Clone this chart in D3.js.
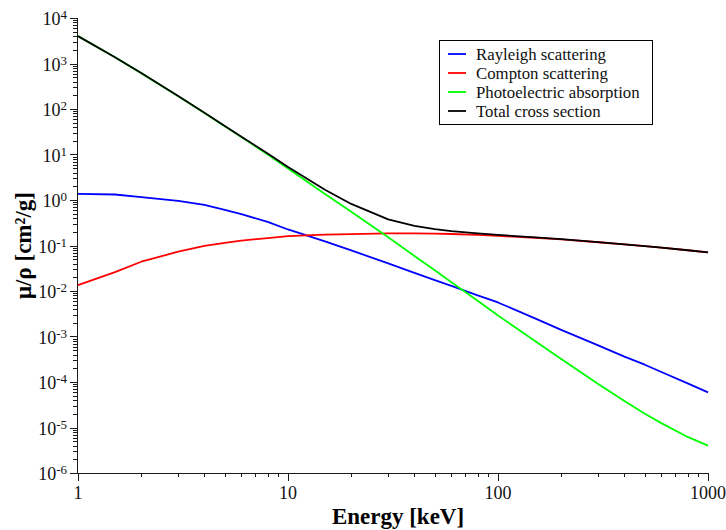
<!DOCTYPE html>
<html>
<head>
<meta charset="utf-8">
<script src="https://cdn.jsdelivr.net/npm/d3@7/dist/d3.min.js"></script>
<style>
  html, body { margin: 0; padding: 0; background: #fff; }
  svg { display: block; }
</style>
</head>
<body>
<svg id="chart" width="726" height="530"></svg>
<script>
// ---- data (energy in keV, mass attenuation in cm^2/g) ----
const energy = [1, 1.5, 2, 3, 4, 5, 6, 8, 10, 15, 20, 30, 40, 50, 60, 80, 100, 150, 200, 300, 400, 500, 600, 800, 1000];
const rayleigh = [1.36, 1.32, 1.16, 0.96, 0.78, 0.61, 0.49, 0.33, 0.225, 0.123, 0.078, 0.0405, 0.025, 0.0173, 0.0129, 0.0080, 0.0056, 0.0025, 0.0014, 6.4e-4, 3.6e-4, 2.4e-4, 1.66e-4, 9.3e-5, 5.9e-5];
const compton = [0.0135, 0.026, 0.044, 0.073, 0.098, 0.114, 0.128, 0.146, 0.161, 0.173, 0.178, 0.184, 0.185, 0.183, 0.179, 0.171, 0.162, 0.148, 0.136, 0.118, 0.106, 0.0968, 0.0895, 0.0786, 0.0707];
const photo = [4000, 1370, 615, 191, 81.5, 41.8, 24.1, 10.0, 4.9, 1.36, 0.55, 0.151, 0.059, 0.0286, 0.0156, 0.0061, 0.0029, 8.0e-4, 3.2e-4, 9.0e-5, 3.8e-5, 2.0e-5, 1.25e-5, 6.2e-6, 4.0e-6];
const total = [4002, 1372, 617, 192, 82.4, 42.5, 24.7, 10.5, 5.3, 1.68, 0.82, 0.376, 0.27, 0.229, 0.207, 0.185, 0.171, 0.151, 0.138, 0.119, 0.1064, 0.097, 0.0897, 0.0787, 0.0708];
const seriesNames = ["Rayleigh scattering", "Compton scattering", "Photoelectric absorption", "Total cross section"];
const seriesColors = ["#0000ff", "#ff0000", "#00ff00", "#000000"];
const xTickValues = [1, 10, 100, 1000];
const xTickLabels = ["1", "10", "100", "1000"];
const yExponents = [-6, -5, -4, -3, -2, -1, 0, 1, 2, 3, 4];
const xTitle = "Energy [keV]";
const yTitle = "μ/ρ [cm²/g]";

(function () {
const FONT = "'Liberation Serif', 'Times New Roman', serif";
const svg = d3.select("#chart").attr("font-family", FONT);
const mLeft = 78, mRight = 708, mTop = 18, mBottom = 473;
const x = d3.scaleLog().domain([1, 1000]).range([mLeft, mRight]);
const y = d3.scaleLog().domain([1e-6, 1e4]).range([mBottom, mTop]);
const axisColor = "#1a1a1a";

const xMinor = [];
for (let d = 0; d < 3; d++) for (let k = 2; k <= 9; k++) xMinor.push(k * Math.pow(10, d));
const yMinor = [];
for (let d = -6; d < 4; d++) for (let k = 2; k <= 9; k++) yMinor.push(k * Math.pow(10, d));

const gx = svg.append("g");
gx.append("line").attr("x1", mLeft).attr("x2", mRight).attr("y1", mBottom + 0.5).attr("y2", mBottom + 0.5)
  .attr("stroke", axisColor).attr("stroke-width", 1);
gx.selectAll("line.minor").data(xMinor).join("line").attr("class", "minor")
  .attr("x1", d => Math.round(x(d)) + 0.5).attr("x2", d => Math.round(x(d)) + 0.5)
  .attr("y1", mBottom).attr("y2", mBottom + 4).attr("stroke", axisColor);
gx.selectAll("line.major").data(xTickValues).join("line").attr("class", "major")
  .attr("x1", d => Math.round(x(d)) + 0.5).attr("x2", d => Math.round(x(d)) + 0.5)
  .attr("y1", mBottom).attr("y2", mBottom + 8).attr("stroke", axisColor);
gx.selectAll("text").data(xTickValues).join("text")
  .attr("x", d => x(d)).attr("y", mBottom + 26)
  .attr("text-anchor", "middle").attr("font-size", 18).attr("fill", "#111")
  .text((d, i) => xTickLabels[i]);

const gy = svg.append("g");
gy.append("line").attr("x1", mLeft - 0.5).attr("x2", mLeft - 0.5).attr("y1", mTop).attr("y2", mBottom + 1)
  .attr("stroke", axisColor).attr("stroke-width", 1);
gy.selectAll("line.minor").data(yMinor).join("line").attr("class", "minor")
  .attr("y1", d => Math.round(y(d)) + 0.5).attr("y2", d => Math.round(y(d)) + 0.5)
  .attr("x1", mLeft - 5).attr("x2", mLeft).attr("stroke", axisColor);
gy.selectAll("line.major").data(yExponents).join("line").attr("class", "major")
  .attr("y1", d => Math.round(y(Math.pow(10, d))) + 0.5).attr("y2", d => Math.round(y(Math.pow(10, d))) + 0.5)
  .attr("x1", mLeft - 8).attr("x2", mLeft).attr("stroke", axisColor);
const yl = gy.selectAll("text").data(yExponents).join("text")
  .attr("x", mLeft - 11).attr("y", d => y(Math.pow(10, d)) + 7)
  .attr("text-anchor", "end").attr("font-size", 18).attr("fill", "#111");
yl.append("tspan").text("10");
yl.append("tspan").attr("font-size", 13).attr("dy", -6).text(d => String(d));

svg.append("text").attr("x", (mLeft + mRight) / 2 + 5).attr("y", 524)
  .attr("text-anchor", "middle").attr("font-size", 23).attr("font-weight", "bold").attr("fill", "#000")
  .text(xTitle);
svg.append("text").attr("transform", `translate(31,${(mTop + mBottom) / 2}) rotate(-90)`)
  .attr("text-anchor", "middle").attr("font-size", 23).attr("font-weight", "bold").attr("fill", "#000")
  .text(yTitle);

const series = [rayleigh, compton, photo, total];
const line = d3.line().x((d, i) => x(energy[i])).y(d => y(d));
svg.append("g").selectAll("path").data(series).join("path")
  .attr("d", d => line(d)).attr("fill", "none")
  .attr("stroke", (d, i) => seriesColors[i]).attr("stroke-width", 1.8)
  .attr("stroke-linejoin", "round");

const lg = svg.append("g");
lg.append("rect").attr("x", 439.5).attr("y", 40.5).attr("width", 213).attr("height", 84)
  .attr("fill", "#fff").attr("stroke", "#000").attr("stroke-width", 1);
const rows = lg.selectAll("g.row").data(seriesNames).join("g").attr("class", "row")
  .attr("transform", (d, i) => `translate(0,${54 + i * 19})`);
rows.append("line").attr("x1", 448).attr("x2", 466).attr("y1", 0).attr("y2", 0)
  .attr("stroke", (d, i) => seriesColors[i]).attr("stroke-width", 1.8);
rows.append("text").attr("x", 476).attr("y", 5.5).attr("font-size", 16.8).attr("fill", "#111")
  .text(d => d);
})();
</script>
</body>
</html>
